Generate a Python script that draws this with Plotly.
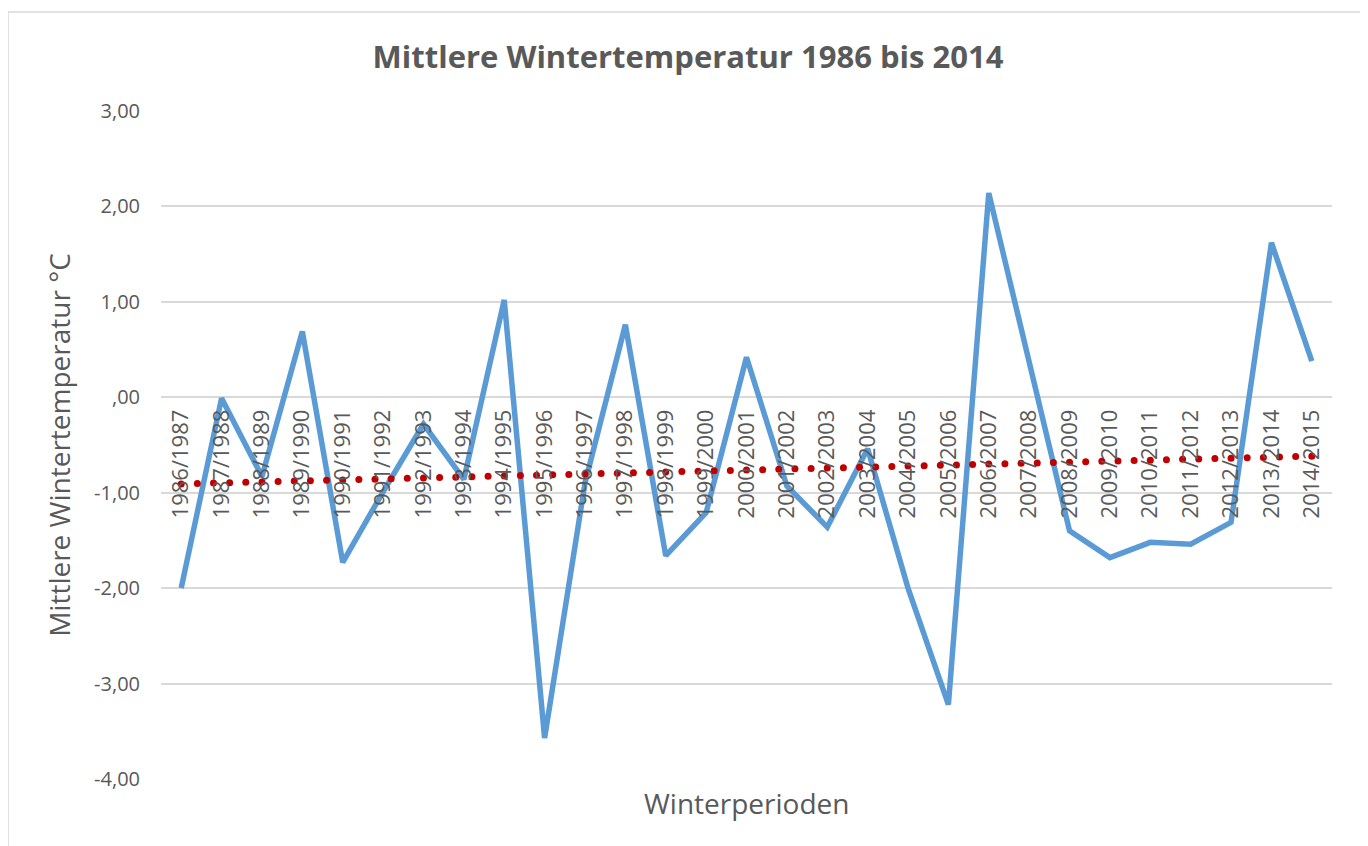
import numpy as np
import plotly.graph_objects as go

# ---------------- data ----------------
categories = [
    "1986/1987", "1987/1988", "1988/1989", "1989/1990", "1990/1991",
    "1991/1992", "1992/1993", "1993/1994", "1994/1995", "1995/1996",
    "1996/1997", "1997/1998", "1998/1999", "1999/2000", "2000/2001",
    "2001/2002", "2002/2003", "2003/2004", "2004/2005", "2005/2006",
    "2006/2007", "2007/2008", "2008/2009", "2009/2010", "2010/2011",
    "2011/2012", "2012/2013", "2013/2014", "2014/2015",
]
temperatures = [
    -2.00, -0.01, -0.83, 0.69, -1.73,
    -0.99, -0.28, -0.86, 1.02, -3.57,
    -0.90, 0.76, -1.66, -1.21, 0.42,
    -0.93, -1.36, -0.54, -2.00, -3.22,
    2.14, 0.40, -1.40, -1.68, -1.52,
    -1.54, -1.31, 1.62, 0.38,
]
y_tick_values = [3, 2, 1, 0, -1, -2, -3, -4]
y_tick_labels = ["3,00", "2,00", "1,00", ",00", "-1,00", "-2,00", "-3,00", "-4,00"]

title_text = "Mittlere Wintertemperatur 1986 bis 2014"
y_title_text = "Mittlere Wintertemperatur °C"
x_title_text = "Winterperioden"

# ---------------- layout constants ----------------
PAGE_W, PAGE_H = 1368, 846
BODY = 8                       # default page body margin
W, H = PAGE_W - BODY, PAGE_H - BODY
ML, MR, MT, MB = 161 - BODY, 36, 111 - BODY, 67
Y_MIN, Y_MAX = -4, 3
TEXT = "#595959"
GRID = "#D9D9D9"
FONT = "Open Sans, Segoe UI, sans-serif"

x_idx = np.arange(len(categories))
y_arr = np.array(temperatures)

# linear trend line (as Excel's linear trendline)
slope, intercept = np.polyfit(x_idx, y_arr, 1)
trend_x = np.arange(0, len(categories) - 1 + 1e-9, 0.4)
trend_y = slope * trend_x + intercept

fig = go.Figure()
fig.add_trace(go.Scatter(
    x=x_idx, y=y_arr, mode="lines",
    line=dict(color="#5B9BD5", width=5.5),
    showlegend=False, hoverinfo="skip",
))
fig.add_trace(go.Scatter(
    x=trend_x, y=trend_y, mode="markers",
    marker=dict(color="#C00000", size=7, line=dict(width=0)),
    showlegend=False, hoverinfo="skip",
))

plot_w = W - ML - MR
plot_h = H - MT - MB
zero_pos = (0 - Y_MIN) / (Y_MAX - Y_MIN)


def px_x(p):
    """page pixel x -> paper fraction"""
    return (p - BODY - ML) / plot_w


def px_y(p):
    """page pixel y -> paper fraction"""
    return (H - MB - (p - BODY)) / plot_h


fig.update_layout(
    width=W, height=H,
    margin=dict(l=ML, r=MR, t=MT, b=MB, pad=0),
    paper_bgcolor="white", plot_bgcolor="white",
    font=dict(family=FONT, color=TEXT),
    title=dict(
        text="<b>" + title_text + "</b>",
        x=0.5, xref="container", xanchor="center",
        y=1 - (57 - BODY) / H, yref="container", yanchor="middle",
        font=dict(size=31, color=TEXT, family=FONT),
    ),
    xaxis=dict(
        range=[-0.5, len(categories) - 0.5],
        tickmode="array", tickvals=x_idx, ticktext=categories,
        tickangle=-90, tickfont=dict(size=22, color=TEXT),
        showgrid=False, zeroline=False, showline=False, ticks="",
        anchor="free", position=zero_pos,
        ticklabelstandoff=7,
    ),
    yaxis=dict(
        range=[Y_MIN, Y_MAX],
        tickmode="array", tickvals=y_tick_values, ticktext=y_tick_labels,
        tickfont=dict(size=20, color=TEXT),
        showgrid=True, gridcolor=GRID, gridwidth=1.5,
        zeroline=False, showline=False, ticks="",
        ticklabelstandoff=20,
        title=dict(text=y_title_text, font=dict(size=28, color=TEXT), standoff=15),
    ),
    annotations=[dict(
        text=x_title_text, xref="paper", yref="paper",
        x=0.5, y=px_y(803), xanchor="center", yanchor="middle",
        showarrow=False, font=dict(size=28, color=TEXT),
    )],
    shapes=[dict(
        type="rect", xref="paper", yref="paper",
        x0=px_x(8), x1=px_x(1361), y0=px_y(870), y1=px_y(12),
        line=dict(color=GRID, width=1.5), fillcolor="rgba(0,0,0,0)",
        layer="below",
    )],
)

fig.write_html("out.html")
